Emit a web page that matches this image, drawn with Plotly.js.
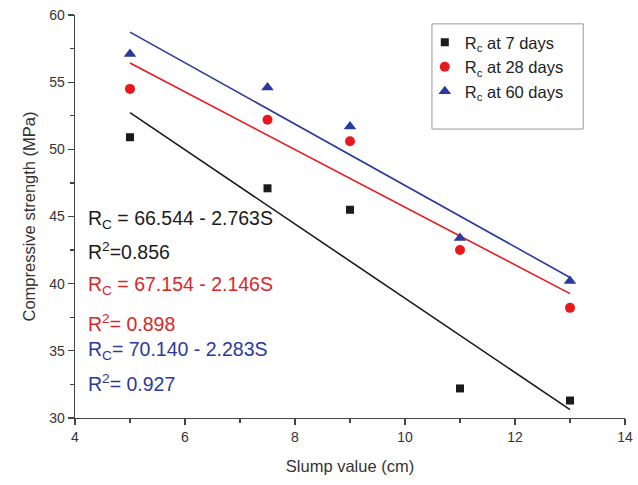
<!DOCTYPE html>
<html>
<head>
<meta charset="utf-8">
<script src="https://cdn.plot.ly/plotly-3.0.1.min.js"></script>
<style>html,body{margin:0;padding:0;background:#fff;}#chart{width:638px;height:485px;}</style>
</head>
<body>
<div id="chart"></div>
<script>
var slump = [5, 7.5, 9, 11, 13];
var rc7 = [50.9, 47.1, 45.5, 32.2, 31.3];
var rc28 = [54.5, 52.2, 50.6, 42.5, 38.2];
var rc60 = [57.1, 54.6, 51.7, 43.4, 40.2];
var seriesNames = ['R<sub>c</sub> at 7 days', 'R<sub>c</sub> at 28 days', 'R<sub>c</sub> at 60 days'];
var fitIntercepts = [66.544, 67.154, 70.140];
var fitSlopes = [-2.763, -2.146, -2.283];
var fitRange = [5, 13];
var eqTexts = ['R<sub>C</sub> = 66.544 - 2.763S', 'R<sup>2</sup>=0.856',
               'R<sub>C</sub> = 67.154 - 2.146S', 'R<sup>2</sup>= 0.898',
               'R<sub>C</sub>= 70.140 - 2.283S', 'R<sup>2</sup>= 0.927'];

var colors = ['#1a1a1a', '#e8191e', '#2b3a9a'];
var textColors = ['#1a1a1a', '#d9262b', '#2b3a9a'];
var symbols = ['square', 'circle', 'triangle-up'];
var sizes = [8, 10, 11];
var ys = [rc7, rc28, rc60];

var traces = [];
for (var i = 0; i < 3; i++) {
  traces.push({
    x: fitRange,
    y: fitRange.map(function (s) { return fitIntercepts[i] + fitSlopes[i] * s; }),
    mode: 'lines', type: 'scatter', showlegend: false, hoverinfo: 'skip',
    line: {color: colors[i], width: 1.6}
  });
}
for (var j = 0; j < 3; j++) {
  traces.push({
    x: slump, y: ys[j], name: seriesNames[j],
    mode: 'markers', type: 'scatter',
    marker: {symbol: symbols[j], size: sizes[j], color: colors[j]}
  });
}

var eqY = [44.8, 42.4, 39.9, 37.1, 35.0, 32.6];
var eqCol = [0, 0, 1, 1, 2, 2];
var annotations = eqTexts.map(function (t, k) {
  return {
    x: 0.02, xref: 'paper', y: eqY[k], yref: 'y', text: t, showarrow: false,
    xanchor: 'left', yanchor: 'middle',
    font: {family: 'Liberation Sans, Arial, sans-serif', size: 19.5, color: textColors[eqCol[k]]}
  };
});

var layout = {
  width: 638, height: 485,
  margin: {l: 75, r: 13, t: 15, b: 67},
  paper_bgcolor: '#fff', plot_bgcolor: '#fff',
  font: {family: 'Liberation Sans, Arial, sans-serif', color: '#333', size: 14},
  xaxis: {
    range: [4, 14], dtick: 2, tick0: 4, showgrid: false, zeroline: false,
    showline: true, linecolor: '#444', linewidth: 1.3,
    ticks: 'outside', ticklen: 6, tickcolor: '#444', tickwidth: 1.3,
    minor: {dtick: 1, ticks: 'outside', ticklen: 4, tickcolor: '#444', tickwidth: 1.3, showgrid: false},
    tickfont: {size: 14, color: '#333'},
    title: {text: 'Slump value (cm)', font: {size: 16.5, color: '#333'}, standoff: 16}
  },
  yaxis: {
    range: [30, 60], dtick: 5, tick0: 30, showgrid: false, zeroline: false,
    showline: true, linecolor: '#444', linewidth: 1.3,
    ticks: 'outside', ticklen: 6, tickcolor: '#444', tickwidth: 1.3,
    minor: {dtick: 2.5, ticks: 'outside', ticklen: 4, tickcolor: '#444', tickwidth: 1.3, showgrid: false},
    tickfont: {size: 14, color: '#333'},
    title: {text: 'Compressive strength (MPa)', font: {size: 16.5, color: '#333'}, standoff: 9}
  },
  showlegend: true,
  legend: {
    x: 0.636, y: 0.975, xanchor: 'left', yanchor: 'top',
    bgcolor: 'rgba(0,0,0,0)', borderwidth: 0,
    font: {size: 16.5, color: '#222'}, tracegroupgap: 0
  },
  shapes: [{
    type: 'rect', xref: 'paper', yref: 'paper',
    x0: 0.649, x1: 0.924, y0: 0.717, y1: 0.978,
    line: {color: '#999', width: 1}, fillcolor: 'rgba(0,0,0,0)'
  }],
  annotations: annotations
};

Plotly.newPlot('chart', traces, layout, {displayModeBar: false, staticPlot: true});
</script>
</body>
</html>
